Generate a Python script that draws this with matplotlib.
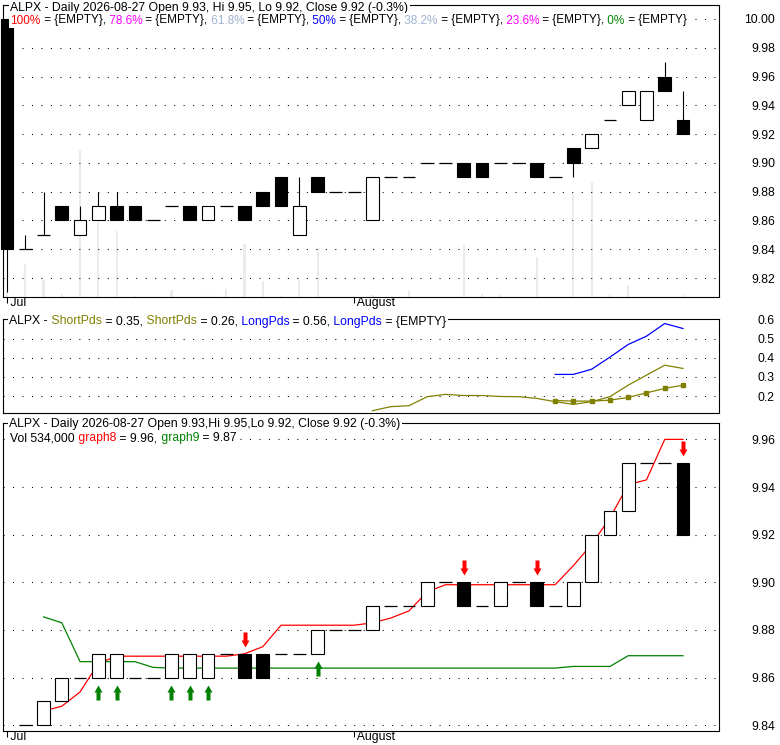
import numpy as np
import matplotlib
matplotlib.use("Agg")
import matplotlib.pyplot as plt
from matplotlib.path import Path
from matplotlib.offsetbox import TextArea, HPacker, AnchoredOffsetbox

plt.rcParams['font.family'] = ['Liberation Sans', 'DejaVu Sans']

# ---- data ----
# top panel: daily candles, index 0 = first bar of July
p_open = [10.00, 9.84, 9.85, 9.87, 9.85, 9.86, 9.87, 9.87, 9.86, 9.87, 9.87, 9.86, 9.87,
          9.87, 9.88, 9.89, 9.85, 9.89, 9.88, 9.88, 9.86, 9.89, 9.89, 9.90, 9.90, 9.90,
          9.90, 9.90, 9.90, 9.90, 9.89, 9.91, 9.91, 9.93, 9.94, 9.93, 9.96, 9.93]
p_high = [10.00, 9.85, 9.88, 9.87, 9.87, 9.88, 9.88, 9.87, 9.86, 9.87, 9.87, 9.87, 9.87,
          9.87, 9.88, 9.89, 9.89, 9.89, 9.88, 9.88, 9.89, 9.89, 9.89, 9.90, 9.90, 9.90,
          9.90, 9.90, 9.90, 9.90, 9.89, 9.91, 9.92, 9.93, 9.95, 9.95, 9.97, 9.95]
p_low = [9.81, 9.84, 9.85, 9.86, 9.85, 9.86, 9.86, 9.86, 9.86, 9.87, 9.86, 9.86, 9.87,
         9.86, 9.87, 9.87, 9.85, 9.88, 9.88, 9.88, 9.86, 9.89, 9.89, 9.90, 9.90, 9.89,
         9.89, 9.90, 9.90, 9.89, 9.89, 9.89, 9.91, 9.93, 9.94, 9.93, 9.95, 9.92]
p_close = [9.84, 9.84, 9.85, 9.86, 9.86, 9.87, 9.86, 9.86, 9.86, 9.87, 9.86, 9.87, 9.87,
           9.86, 9.87, 9.87, 9.87, 9.88, 9.88, 9.88, 9.89, 9.89, 9.89, 9.90, 9.90, 9.89,
           9.89, 9.90, 9.90, 9.89, 9.89, 9.90, 9.92, 9.93, 9.95, 9.95, 9.95, 9.92]
volume_k = [1335, 8810, 4540, 800, 39250, 20030, 17620, 270, 0, 1870, 0, 530, 2140,
            14150, 4270, 270, 4540, 13080, 0, 270, 530, 0, 1600, 0, 0, 13880, 800, 530,
            0, 10680, 0, 27500, 30700, 530, 3200, 0, 0, 534]

# middle panel indicator lines
short1_idx = list(range(20, 38))
short1 = [0.124, 0.145, 0.150, 0.197, 0.209, 0.203, 0.203, 0.198, 0.197, 0.188, 0.171,
          0.157, 0.171, 0.197, 0.257, 0.309, 0.361, 0.344]
short2_idx = list(range(30, 38))
short2 = [0.177, 0.174, 0.174, 0.179, 0.193, 0.217, 0.240, 0.257]
long_idx = list(range(30, 38))
long1 = [0.313, 0.313, 0.340, 0.403, 0.469, 0.512, 0.578, 0.552]

# bottom panel: body-only candles plus two bands
b_idx = list(range(1, 38))
b_open = [9.84, 9.84, 9.85, 9.86, 9.86, 9.86, 9.86, 9.86, 9.86, 9.86, 9.86, 9.87, 9.87,
          9.87, 9.87, 9.87, 9.87, 9.88, 9.88, 9.88, 9.89, 9.89, 9.89, 9.90, 9.90, 9.89,
          9.89, 9.90, 9.90, 9.89, 9.89, 9.90, 9.92, 9.93, 9.95, 9.95, 9.95]
b_close = [9.84, 9.85, 9.86, 9.86, 9.87, 9.87, 9.86, 9.86, 9.87, 9.87, 9.87, 9.87, 9.86,
           9.86, 9.87, 9.87, 9.88, 9.88, 9.88, 9.89, 9.89, 9.89, 9.90, 9.90, 9.89, 9.89,
           9.90, 9.90, 9.89, 9.89, 9.90, 9.92, 9.93, 9.95, 9.95, 9.95, 9.92]
band_idx = list(range(2, 38))
graph8 = [9.846, 9.848, 9.854, 9.866, 9.869, 9.869, 9.869, 9.869, 9.869, 9.869, 9.869,
          9.870, 9.873, 9.882, 9.882, 9.882, 9.882, 9.882, 9.883, 9.885, 9.888, 9.896,
          9.899, 9.899, 9.899, 9.899, 9.899, 9.899, 9.899, 9.907, 9.916, 9.927, 9.941,
          9.943, 9.960, 9.960]
graph9 = [9.8855, 9.883, 9.8667, 9.8667, 9.8667, 9.8667, 9.8643, 9.864, 9.864, 9.864,
          9.864, 9.864, 9.864, 9.864, 9.864, 9.864, 9.864, 9.864, 9.864, 9.864, 9.864,
          9.864, 9.864, 9.864, 9.864, 9.864, 9.864, 9.864, 9.864, 9.8647, 9.8647, 9.8647,
          9.8692, 9.8692, 9.8692, 9.8692]
buy_idx = [5, 6, 9, 10, 11, 17]
sell_idx = [13, 25, 29, 37]

month_ticks = [0, 19]
month_labels = [' Jul', ' August']
price_ticks = [9.82, 9.84, 9.86, 9.88, 9.90, 9.92, 9.94, 9.96, 9.98, 10.00]
ind_ticks = [0.2, 0.3, 0.4, 0.5, 0.6]
bot_ticks = [9.84, 9.86, 9.88, 9.90, 9.92, 9.94, 9.96]

W, H = 780, 745
fig = plt.figure(figsize=(W / 100, H / 100), dpi=100)


def box(x0, y0, x1, y1):
    return [x0 / W, 1 - y1 / H, (x1 - x0) / W, (y1 - y0) / H]


ax_top = fig.add_axes(box(3, 5, 719, 297))
ax_mid = fig.add_axes(box(3, 319.3, 719, 413))
ax_bot = fig.add_axes(box(3, 422.7, 719, 731))

xlim = (-0.22, 38.97)
dots = (0, (1, 8.1))
body_w = 0.7


def style(ax, ticks, labels, ylim):
    ax.set_xlim(*xlim)
    ax.set_ylim(*ylim)
    ax.yaxis.tick_right()
    ax.set_yticks(ticks, labels)
    ax.tick_params(axis='y', length=0, pad=40.3, labelsize=8.7)
    for t in ax.get_yticklabels():
        t.set_horizontalalignment('right')
    ax.yaxis.grid(True, linestyle=dots, color='black', linewidth=0.75)
    for s in ax.spines.values():
        s.set_linewidth(0.8)
        s.set_color('black')


def month_axis(ax):
    ax.set_xticks(month_ticks, month_labels)
    ax.tick_params(axis='x', direction='out', length=4.3, width=0.75, pad=-4.0, labelsize=8.8)
    for t in ax.get_xticklabels():
        t.set_horizontalalignment('left')


def candles(ax, idx, o, c, zorder=3):
    for i, op, cl in zip(idx, o, c):
        if op == cl:
            ax.hlines(op, i - body_w / 2, i + body_w / 2, color='black', linewidth=0.9, zorder=zorder)
        else:
            face = 'white' if cl > op else 'black'
            ax.bar(i, abs(cl - op), bottom=min(op, cl), width=body_w, facecolor=face,
                   edgecolor='black', linewidth=0.8, zorder=zorder, clip_on=False)


# ---- top panel ----
x_all = np.arange(len(p_open))
vax = ax_top.twinx()
vax.bar(x_all, volume_k, width=0.12, color='#ebebeb', zorder=1)
vax.set_ylim(0, 78000)
vax.set_yticks([])
vax.set_zorder(0)
ax_top.set_zorder(1)
ax_top.patch.set_visible(False)
style(ax_top, price_ticks, [f'{v:.2f}' for v in price_ticks], (9.8068, 10.0097))
ax_top.vlines(x_all, p_low, p_high, color='black', linewidth=0.8, zorder=2)
candles(ax_top, x_all, p_open, p_close)
month_axis(ax_top)
for s in vax.spines.values():
    s.set_visible(False)

# ---- middle panel ----
style(ax_mid, ind_ticks, [f'{v:.1f}' for v in ind_ticks], (0.112, 0.600))
ax_mid.set_xticks([])
ax_mid.plot(short1_idx, short1, color='#808000', linewidth=0.9)
ax_mid.plot(short2_idx, short2, color='#808000', linewidth=0.9, marker='s', markersize=2.6)
ax_mid.plot(long_idx, long1, color='#0000ff', linewidth=0.9)

# ---- bottom panel ----
style(ax_bot, bot_ticks, [f'{v:.2f}' for v in bot_ticks], (9.8376, 9.967))
ax_bot.plot(band_idx, graph8, color='#ff0000', linewidth=0.9, zorder=2)
ax_bot.plot(band_idx, graph9, color='#008000', linewidth=0.9, zorder=2)
candles(ax_bot, b_idx, b_open, b_close)
month_axis(ax_bot)

up = Path([(0, -7), (4, -14), (2, -14), (2, -22), (-2, -22), (-2, -14), (-4, -14), (0, -7)],
          [Path.MOVETO] + [Path.LINETO] * 6 + [Path.CLOSEPOLY])
down = Path(up.vertices * np.array([1, -1]), up.codes)
b_lo = {i: min(o, c) for i, o, c in zip(b_idx, b_open, b_close)}
b_hi = {i: max(o, c) for i, o, c in zip(b_idx, b_open, b_close)}
ax_bot.plot(buy_idx, [b_lo[i] for i in buy_idx], linestyle='none', marker=up,
            markersize=31.7, color='#008000', markeredgewidth=0, zorder=4, clip_on=False)
ax_bot.plot(sell_idx, [b_hi[i] for i in sell_idx], linestyle='none', marker=down,
            markersize=31.7, color='#ff0000', markeredgewidth=0, zorder=4, clip_on=False)


# ---- headers ----
def header(parts, x, y, fs):
    areas = [TextArea(s, textprops=dict(color=c, fontsize=fs)) for s, c in parts]
    pack = HPacker(children=areas, align='baseline', pad=0, sep=0)
    ab = AnchoredOffsetbox(loc='center left', child=pack, pad=0.1, borderpad=0, frameon=True,
                           bbox_to_anchor=(x / W, 1 - y / H), bbox_transform=fig.transFigure)
    ab.patch.set_facecolor('white')
    ab.patch.set_edgecolor('none')
    ab.set_zorder(10)
    fig.add_artist(ab)


k = 'black'
gb = '#9fb2cf'
header([('ALPX - Daily 2026-08-27 Open 9.93, Hi 9.95, Lo 9.92, Close 9.92 (-0.3%)', k)],
       9, 7.5, 8.8)
header([('100%', '#ff0000'), (' = {EMPTY},', k), (' 78.6%', '#ff00ff'), (' = {EMPTY},', k),
        (' 61.8%', gb), (' = {EMPTY},', k), (' 50%', '#0000ff'), (' = {EMPTY},', k),
        (' 38.2%', gb), (' = {EMPTY},', k), (' 23.6%', '#ff00ff'), (' = {EMPTY},', k),
        (' 0%', '#008000'), (' = {EMPTY}', k)], 9, 20.5, 8.5)
header([('ALPX -', k), (' ShortPds', '#808000'), (' = 0.35,', k), (' ShortPds', '#808000'),
        (' = 0.26,', k), (' LongPds', '#0000ff'), (' = 0.56,', k), (' LongPds', '#0000ff'),
        (' = {EMPTY}', k)], 8, 321.5, 8.8)
header([('ALPX - Daily 2026-08-27 Open 9.93,Hi 9.95,Lo 9.92, Close 9.92 (-0.3%)', k)],
       8, 424, 8.85)
header([('Vol 534,000', k), (' graph8', '#ff0000'), (' = 9.96,', k), (' graph9', '#008000'),
        (' = 9.87', k)], 9, 438.5, 8.7)

fig.savefig('out.png', dpi=100)
